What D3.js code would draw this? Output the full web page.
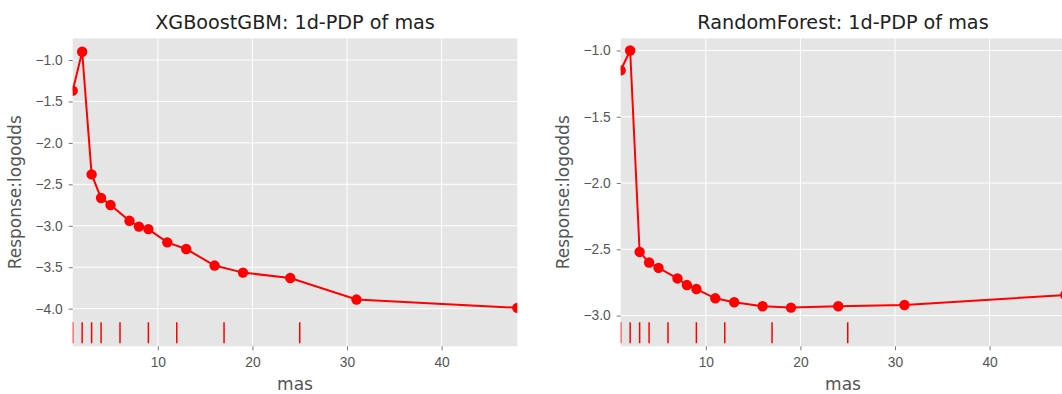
<!DOCTYPE html>
<html>
<head>
<meta charset="utf-8">
<script src="https://cdn.jsdelivr.net/npm/d3@7"></script>
<style>
  body { margin: 0; background: #fff; }
  svg { display: block; font-family: "DejaVu Sans", sans-serif; }
</style>
</head>
<body>
<svg id="chart" width="1062" height="394"></svg>
<script>
// grid of "mas" values where the partial dependence was evaluated
const masGrid = [1, 2, 3, 4, 5, 7, 8, 9, 11, 13, 16, 19, 24, 31, 48];
// PDP response (logodds) per model
const xgbLogodds = [-1.37, -0.90, -2.38, -2.665, -2.75, -2.94, -3.01, -3.04, -3.20, -3.28, -3.48, -3.565, -3.63, -3.89, -3.99];
const rfLogodds = [-1.15, -1.00, -2.52, -2.60, -2.64, -2.72, -2.77, -2.80, -2.87, -2.90, -2.93, -2.94, -2.93, -2.92, -2.845];
// rug marks (deciles of mas)
const rugDeciles = [1, 2, 3, 4, 6, 9, 12, 17, 25];
// tick labels
const xTicks = [10, 20, 30, 40];
const xgbYTicks = [-1.0, -1.5, -2.0, -2.5, -3.0, -3.5, -4.0];
const rfYTicks = [-1.0, -1.5, -2.0, -2.5, -3.0];
const titles = ["XGBoostGBM: 1d-PDP of mas", "RandomForest: 1d-PDP of mas"];

const svg = d3.select("#chart");
const fmt = d => d3.format(".1f")(d).replace("-", "\u2212");

const panels = [
  { left: 72.7, title: titles[0], values: xgbLogodds, yTicks: xgbYTicks, yDomain: [-4.454, -0.738] },
  { left: 620.7, title: titles[1], values: rfLogodds, yTicks: rfYTicks, yDomain: [-3.232, -0.908] }
];
const panelTop = 38.3, width = 444.6, height = 308;

panels.forEach((p, i) => {
  const g = svg.append("g").attr("transform", `translate(${p.left},${panelTop})`);

  const x = d3.scaleLinear().domain([1, 48]).range([0, width]);
  const y = d3.scaleLinear().domain(p.yDomain).range([height, 0]);

  // background
  g.append("rect").attr("width", width).attr("height", height).attr("fill", "#e5e5e5");

  // grid
  g.selectAll(".vgrid").data(xTicks).join("line")
    .attr("x1", d => x(d)).attr("x2", d => x(d))
    .attr("y1", 0).attr("y2", height)
    .attr("stroke", "#fff").attr("stroke-width", 1);
  g.selectAll(".hgrid").data(p.yTicks).join("line")
    .attr("x1", 0).attr("x2", width)
    .attr("y1", d => y(d)).attr("y2", d => y(d))
    .attr("stroke", "#fff").attr("stroke-width", 1);

  // axes
  const xAxis = g.append("g")
    .attr("transform", `translate(0,${height})`)
    .call(d3.axisBottom(x).tickValues(xTicks).tickSize(4).tickPadding(7));
  const yAxis = g.append("g")
    .call(d3.axisLeft(y).tickValues(p.yTicks).tickFormat(fmt).tickSize(4).tickPadding(6));
  [xAxis, yAxis].forEach(a => {
    a.select(".domain").remove();
    a.selectAll(".tick line").attr("stroke", "#555").attr("stroke-width", 0.8);
    a.selectAll(".tick text").attr("fill", "#555").style("font-size", "13.8px");
  });

  // clip to the axes area
  const clipId = "clip" + i;
  g.append("clipPath").attr("id", clipId)
    .append("rect").attr("width", width).attr("height", height);
  const plot = g.append("g").attr("clip-path", `url(#${clipId})`);

  // rug
  plot.selectAll(".rug").data(rugDeciles).join("line")
    .attr("x1", d => x(d)).attr("x2", d => x(d))
    .attr("y1", height - 24).attr("y2", height - 3)
    .attr("stroke", "red").attr("stroke-width", 1.5);

  // line + markers
  const pts = masGrid.map((m, k) => [m, p.values[k]]);
  plot.append("path")
    .datum(pts)
    .attr("fill", "none")
    .attr("stroke", "red")
    .attr("stroke-width", 2)
    .attr("d", d3.line().x(d => x(d[0])).y(d => y(d[1])));
  plot.selectAll("circle").data(pts).join("circle")
    .attr("cx", d => x(d[0])).attr("cy", d => y(d[1]))
    .attr("r", 5.2).attr("fill", "red");

  // title
  g.append("text")
    .attr("x", width / 2).attr("y", -9)
    .attr("text-anchor", "middle")
    .attr("fill", "#222")
    .style("font-size", "19.2px")
    .text(p.title);

  // axis labels
  g.append("text")
    .attr("x", width / 2).attr("y", height + 44)
    .attr("text-anchor", "middle")
    .attr("fill", "#555")
    .style("font-size", "17px")
    .text("mas");
  g.append("text")
    .attr("transform", `translate(${-52},${height / 2}) rotate(-90)`)
    .attr("text-anchor", "middle")
    .attr("fill", "#555")
    .style("font-size", "17px")
    .text("Response:logodds");
});
</script>
</body>
</html>
